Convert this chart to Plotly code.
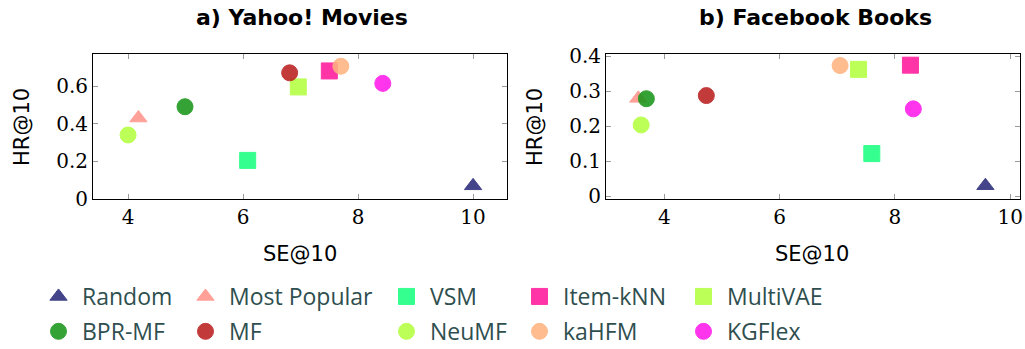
import plotly.graph_objects as go

models = ["Random", "Most Popular", "VSM", "Item-kNN", "MultiVAE",
          "BPR-MF", "MF", "NeuMF", "kaHFM", "KGFlex"]
symbols = ["triangle-up", "triangle-up", "square", "square", "square",
           "circle", "circle", "circle", "circle", "circle"]
colors = ["#2b2b7a", "#ff958c", "#1aff80", "#ff1a9c", "#b3ff40",
          "#1a961a", "#bb1f1f", "#b3ff40", "#ffb380", "#ff1aeb"]

# a) Yahoo! Movies
yahoo_se = [10.0, 4.18, 6.08, 7.50, 6.96, 4.99, 6.81, 4.00, 7.70, 8.43]
yahoo_hr = [0.07, 0.43, 0.205, 0.68, 0.595, 0.49, 0.67, 0.34, 0.705, 0.614]

# b) Facebook Books
fb_se = [9.57, 3.55, 7.60, 8.27, 7.37, 3.69, 4.73, 3.60, 7.05, 8.32]
fb_hr = [0.03, 0.28, 0.122, 0.375, 0.363, 0.279, 0.288, 0.204, 0.374, 0.25]

yahoo_yticks = [0, 0.2, 0.4, 0.6]
yahoo_xticks = [4, 6, 8, 10]
fb_yticks = [0, 0.1, 0.2, 0.3, 0.4]
fb_xticks = [4, 6, 8, 10]

W, H = 1025, 349
fig = go.Figure()

legend_of = {}
for i, m in enumerate(models):
    col = i % 5
    legend_of[m] = "legend" if col == 0 else f"legend{col + 1}"


def marker(i):
    return dict(symbol=symbols[i], size=16 if symbols[i] != "triangle-up" else 15,
                color=colors[i], opacity=0.88, line=dict(width=1, color=colors[i]))


for i, m in enumerate(models):
    fig.add_trace(go.Scatter(
        x=[yahoo_se[i]], y=[yahoo_hr[i]], mode="markers", name=m, marker=marker(i),
        xaxis="x", yaxis="y", legend=legend_of[m], legendgroup=m,
        showlegend=True, hoverinfo="skip"))
for i, m in enumerate(models):
    fig.add_trace(go.Scatter(
        x=[fb_se[i]], y=[fb_hr[i]], mode="markers", name=m, marker=marker(i),
        xaxis="x2", yaxis="y2", legendgroup=m, showlegend=False, hoverinfo="skip"))

tickfont = dict(family="DejaVu Serif", size=20, color="black")
axcommon = dict(showgrid=False, zeroline=False, showline=True, linecolor="black",
                linewidth=1, mirror="ticks", ticks="inside", ticklen=5,
                tickcolor="#9a9a9a", tickwidth=1, tickfont=tickfont)

ydom = [1 - 199 / H, 1 - 54 / H]
fig.update_layout(
    width=W, height=H, margin=dict(l=0, r=0, t=0, b=0, autoexpand=False),
    paper_bgcolor="white", plot_bgcolor="white",
    xaxis=dict(domain=[93 / W, 507 / W], range=[3.39, 10.59], tickvals=yahoo_xticks,
               anchor="y", **axcommon),
    yaxis=dict(domain=ydom, range=[0, 0.77], tickvals=yahoo_yticks,
               ticktext=["0", "0.2", "0.4", "0.6"], anchor="x", **axcommon),
    xaxis2=dict(domain=[606 / W, 1020 / W], range=[2.99, 10.17], tickvals=fb_xticks,
                anchor="y2", **axcommon),
    yaxis2=dict(domain=ydom, range=[-0.008, 0.407], tickvals=fb_yticks,
                ticktext=["0", "0.1", "0.2", "0.3", "0.4"], anchor="x2", **axcommon),
)

legfont = dict(family="Open Sans", size=23, color="#2f4f4f")
col_x = [55, 202, 403, 536, 700]
for c, xc in enumerate(col_x):
    key = "legend" if c == 0 else f"legend{c + 1}"
    fig.update_layout({key: dict(
        x=(xc - 20) / W, y=1 - 275 / H, xanchor="left", yanchor="top",
        orientation="v", font=legfont, bgcolor="rgba(0,0,0,0)", itemwidth=37,
        borderwidth=0, tracegroupgap=2, itemclick=False, itemdoubleclick=False)})

titlefont = dict(family="DejaVu Sans", size=22, color="black")
axtitlefont = dict(family="DejaVu Sans", size=21, color="black")
ann = dict(xref="paper", yref="paper", showarrow=False, xanchor="center", yanchor="middle")
fig.add_annotation(x=302 / W, y=1 - 17 / H, text="<b>a) Yahoo! Movies</b>", font=titlefont, **ann)
fig.add_annotation(x=815 / W, y=1 - 17 / H, text="<b>b) Facebook Books</b>", font=titlefont, **ann)
fig.add_annotation(x=300 / W, y=1 - 254 / H, text="SE@10", font=axtitlefont, **ann)
fig.add_annotation(x=812 / W, y=1 - 254 / H, text="SE@10", font=axtitlefont, **ann)
fig.add_annotation(x=22 / W, y=1 - 127 / H, text="HR@10", font=axtitlefont, textangle=-90, **ann)
fig.add_annotation(x=535 / W, y=1 - 127 / H, text="HR@10", font=axtitlefont, textangle=-90, **ann)

fig.write_html("out.html", config={"displayModeBar": False},
               post_script="document.body.style.margin='0';document.body.style.overflow='hidden';")
